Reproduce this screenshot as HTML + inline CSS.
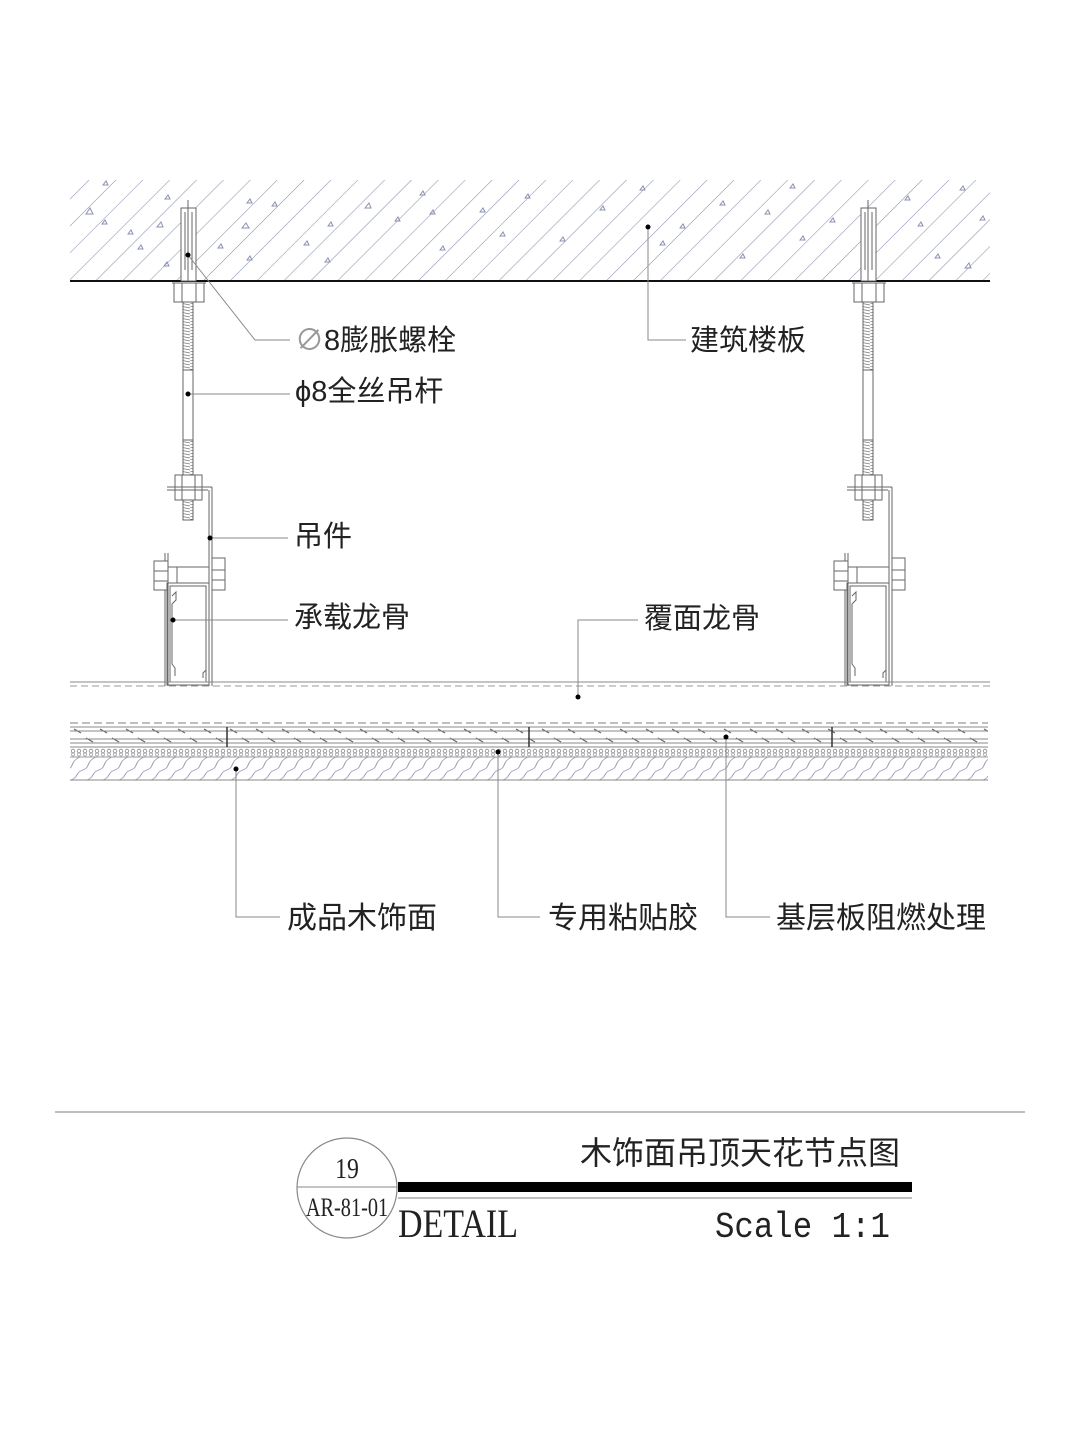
<!DOCTYPE html>
<html><head><meta charset="utf-8"><style>
html,body{margin:0;padding:0;background:#fff;}
svg{display:block;}
text{font-family:"Liberation Sans","Noto Sans CJK SC",sans-serif;fill:#222;}
</style></head><body>
<svg width="1080" height="1439" viewBox="0 0 1080 1439" xmlns="http://www.w3.org/2000/svg">
<defs>
<pattern id="hatch" patternUnits="userSpaceOnUse" width="19" height="19" patternTransform="rotate(45)">
<line x1="0" y1="0" x2="0" y2="19" stroke="#8a90b0" stroke-width="1.1"/>
</pattern>
<pattern id="wood" patternUnits="userSpaceOnUse" width="16" height="23" x="70" y="757" patternTransform="skewX(-35)">
<path d="M12 0 C5 5,14 10,8 13 C2 16,9 20,3 23" fill="none" stroke="#8c90b8" stroke-width="1"/>
</pattern>
<pattern id="gran" patternUnits="userSpaceOnUse" width="6" height="9" x="70" y="748">
<circle cx="3" cy="3" r="1.8" fill="none" stroke="#888" stroke-width="0.8"/>
<circle cx="3" cy="6.5" r="1.5" fill="none" stroke="#999" stroke-width="0.7"/>
</pattern>
<pattern id="dash" patternUnits="userSpaceOnUse" width="26" height="18" x="70" y="727">
<line x1="4" y1="2" x2="11" y2="6" stroke="#666" stroke-width="1.2"/>
<line x1="16" y1="11" x2="23" y2="15" stroke="#666" stroke-width="1.2"/>
</pattern>
<pattern id="thread" patternUnits="userSpaceOnUse" width="10" height="3">
<line x1="0" y1="0" x2="10" y2="2" stroke="#777" stroke-width="0.8"/>
</pattern>
<g id="hanger" fill="none" stroke="#666" stroke-width="1">
  <rect x="181" y="208" width="15" height="73" fill="#fff"/>
  <line x1="185" y1="212" x2="185" y2="270"/><line x1="192" y1="212" x2="192" y2="270"/>
  <line x1="188" y1="200" x2="188" y2="281"/>
  <rect x="174" y="283" width="30" height="19" fill="#fff"/>
  <line x1="182" y1="283" x2="182" y2="302"/><line x1="196" y1="283" x2="196" y2="302"/>
  <line x1="172" y1="283" x2="206" y2="283"/>
  <rect x="183" y="302" width="10" height="68" fill="url(#thread)"/>
  <rect x="183" y="370" width="10" height="70" fill="#fff"/>
  <rect x="183" y="440" width="10" height="35" fill="url(#thread)"/>
  <rect x="183" y="500" width="10" height="20" fill="url(#thread)"/>
  <rect x="175" y="475" width="27" height="25" fill="#fff"/>
  <line x1="182" y1="475" x2="182" y2="500"/><line x1="195" y1="475" x2="195" y2="500"/>
  <line x1="167" y1="487" x2="212" y2="487"/><line x1="167" y1="490" x2="208" y2="490"/>
  <line x1="212" y1="487" x2="212" y2="686"/><line x1="209" y1="490" x2="209" y2="686"/>
  <line x1="165" y1="553" x2="165" y2="686"/><line x1="168" y1="553" x2="168" y2="686"/>
  <rect x="154" y="561" width="14" height="29" fill="#fff"/>
  <line x1="154" y1="571" x2="168" y2="571"/><line x1="154" y1="581" x2="168" y2="581"/>
  <rect x="168" y="567" width="41" height="16" fill="#fff"/>
  <line x1="177" y1="567" x2="177" y2="583"/>
  <rect x="212" y="558" width="13" height="32" fill="#fff"/>
  <line x1="212" y1="570" x2="225" y2="570"/><line x1="212" y1="580" x2="225" y2="580"/>
  <rect x="167" y="583" width="42" height="102"/>
  <rect x="170" y="586" width="36" height="96"/>
  <path d="M172 596 L176 592 L176 600 L172 604 L172 664 L175 668 L175 676"/>
  <path d="M206 670 L203 673 L203 678"/>
</g>
</defs>

<rect x="70" y="180" width="920" height="101" fill="url(#hatch)"/>
<g fill="none" stroke="#8a90b0" stroke-width="1">
<path d="M86 214 l4 -6 l3 6z"/><path d="M102 224 l3 -4 l2 4z"/><path d="M103 185 l3 -4 l2 4z"/>
<path d="M128 234 l3 -4 l2 4z"/><path d="M157 227 l4 -5 l2 5z"/><path d="M165 199 l3 -4 l2 4z"/>
<path d="M164 266 l3 -4 l2 4z"/><path d="M138 249 l3 -4 l2 4z"/><path d="M218 248 l3 -4 l2 4z"/>
<path d="M242 228 l4 -5 l3 5z"/><path d="M272 206 l3 -4 l2 4z"/><path d="M247 260 l3 -4 l2 4z"/>
<path d="M247 203 l3 -4 l2 4z"/><path d="M304 245 l3 -4 l2 4z"/><path d="M328 226 l3 -4 l2 4z"/>
<path d="M325 262 l3 -4 l2 4z"/><path d="M365 208 l4 -5 l2 5z"/><path d="M395 221 l3 -4 l2 4z"/>
<path d="M420 195 l3 -4 l2 4z"/><path d="M430 214 l3 -4 l2 4z"/><path d="M440 250 l3 -4 l2 4z"/>
<path d="M480 212 l3 -4 l2 4z"/><path d="M500 236 l3 -4 l2 4z"/><path d="M525 198 l3 -4 l2 4z"/>
<path d="M560 241 l3 -4 l2 4z"/><path d="M600 210 l3 -4 l2 4z"/><path d="M640 190 l3 -4 l2 4z"/>
<path d="M660 245 l3 -4 l2 4z"/><path d="M680 228 l3 -4 l2 4z"/><path d="M720 205 l3 -4 l2 4z"/>
<path d="M740 258 l3 -4 l2 4z"/><path d="M765 214 l3 -4 l2 4z"/><path d="M790 188 l3 -4 l2 4z"/>
<path d="M800 240 l3 -4 l2 4z"/><path d="M830 222 l3 -4 l2 4z"/><path d="M905 200 l3 -4 l2 4z"/>
<path d="M918 226 l3 -4 l2 4z"/><path d="M935 258 l3 -4 l2 4z"/><path d="M960 190 l3 -4 l2 4z"/>
<path d="M965 268 l4 -5 l2 5z"/><path d="M980 220 l3 -4 l2 4z"/>
</g>
<line x1="70" y1="281" x2="990" y2="281" stroke="#111" stroke-width="2"/>

<use href="#hanger"/>
<use href="#hanger" transform="translate(680,0)"/>

<line x1="70" y1="682" x2="990" y2="682" stroke="#888" stroke-width="1"/>
<line x1="70" y1="686" x2="990" y2="686" stroke="#999" stroke-width="1" stroke-dasharray="7 4"/>

<line x1="70" y1="723" x2="988" y2="723" stroke="#999" stroke-width="1.2" stroke-dasharray="8 4"/>
<rect x="70" y="727" width="918" height="18" fill="url(#dash)"/>
<g stroke="#888" stroke-width="1">
<line x1="70" y1="727" x2="988" y2="727"/><line x1="70" y1="731" x2="988" y2="731"/>
<line x1="70" y1="739" x2="988" y2="739"/><line x1="70" y1="743" x2="988" y2="743"/>
<line x1="70" y1="747" x2="988" y2="747"/>
</g>
<rect x="70" y="748" width="918" height="9" fill="url(#gran)"/>
<rect x="70" y="757" width="918" height="23" fill="url(#wood)"/>
<line x1="70" y1="757" x2="988" y2="757" stroke="#999"/>
<line x1="70" y1="780" x2="988" y2="780" stroke="#888"/>
<g stroke="#333" stroke-width="1.5">
<line x1="227" y1="727" x2="227" y2="747"/><line x1="529" y1="727" x2="529" y2="747"/>
<line x1="832" y1="727" x2="832" y2="747"/>
</g>

<g fill="none" stroke="#888" stroke-width="1">
<polyline points="188,255 255,340 290,340"/>
<line x1="188" y1="394" x2="290" y2="394"/>
<polyline points="648,227 648,340 686,340"/>
<line x1="210" y1="538" x2="288" y2="538"/>
<line x1="173" y1="620" x2="288" y2="620"/>
<polyline points="578,697 578,620 638,620"/>
<polyline points="236,769 236,917 280,917"/>
<polyline points="498,752 498,917 540,917"/>
<polyline points="726,737 726,917 770,917"/>
</g>
<g fill="#000">
<circle cx="188" cy="255" r="2.5"/><circle cx="188" cy="394" r="2.5"/><circle cx="648" cy="227" r="2.5"/>
<circle cx="210" cy="538" r="2.5"/><circle cx="173" cy="620" r="2.5"/><circle cx="578" cy="697" r="2.5"/>
<circle cx="236" cy="769" r="2.5"/><circle cx="498" cy="752" r="2.5"/><circle cx="726" cy="737" r="2.5"/>
</g>

<g font-size="29">
<text x="295" y="350"><tspan fill="#999">∅</tspan>8膨胀螺栓</text>
<text x="295" y="401">ϕ8全丝吊杆</text>
<text x="690" y="350">建筑楼板</text>
<text x="294" y="546">吊件</text>
<text x="294" y="627">承载龙骨</text>
<text x="644" y="628">覆面龙骨</text>
</g>
<g font-size="30">
<text x="287" y="928">成品木饰面</text>
<text x="548" y="928">专用粘贴胶</text>
<text x="776" y="928">基层板阻燃处理</text>
</g>

<line x1="55" y1="1112" x2="1025" y2="1112" stroke="#aaa" stroke-width="1.5"/>
<circle cx="347" cy="1188" r="50" fill="none" stroke="#888" stroke-width="1.2"/>
<line x1="297" y1="1187" x2="397" y2="1187" stroke="#888" stroke-width="1"/>
<text x="347" y="1178" font-size="28" text-anchor="middle" style="font-family:'Liberation Serif',serif" transform="translate(347,0) scale(0.85,1) translate(-347,0)">19</text>
<text x="347" y="1216" font-size="26" text-anchor="middle" style="font-family:'Liberation Serif',serif" transform="translate(347,0) scale(0.78,1) translate(-347,0)">AR-81-01</text>
<rect x="398" y="1182" width="514" height="10" fill="#000"/>
<line x1="398" y1="1198" x2="912" y2="1198" stroke="#aaa" stroke-width="1.5"/>
<text x="580" y="1164" font-size="32">木饰面吊顶天花节点图</text>
<text x="398" y="1237" font-size="40" style="font-family:'Liberation Serif',serif" transform="translate(398,0) scale(0.85,1) translate(-398,0)">DETAIL</text>
<text x="715" y="1237" font-size="36" style="font-family:'Liberation Mono',monospace" transform="translate(715,0) scale(0.9,1) translate(-715,0)">Scale 1:1</text>
</svg>
</body></html>
